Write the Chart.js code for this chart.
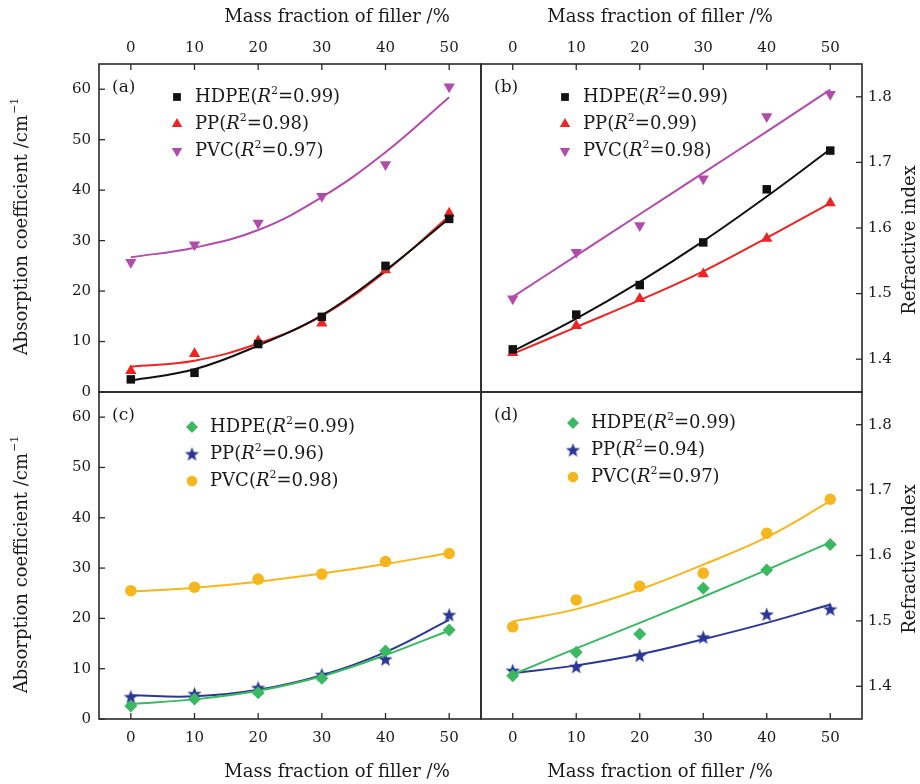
<!DOCTYPE html>
<html>
<head>
<meta charset="utf-8">
<script src="https://cdn.jsdelivr.net/npm/chart.js@4.4.1/dist/chart.umd.min.js"></script>
<style>
  body { margin: 0; background: #fff; }
  #wrap { position: relative; width: 920px; height: 784px; }
  #wrap canvas { position: absolute; left: 0; top: 0; }
</style>
</head>
<body>
<div id="wrap">
  <canvas id="panelA" width="920" height="784"></canvas>
  <canvas id="panelB" width="920" height="784"></canvas>
  <canvas id="panelC" width="920" height="784"></canvas>
  <canvas id="panelD" width="920" height="784"></canvas>
</div>
<script>
// mass fraction of filler (%) - same for all series
const massFraction = [0, 10, 20, 30, 40, 50];
const xTicks = [0, 10, 20, 30, 40, 50];
const absTicks = [0, 10, 20, 30, 40, 50, 60];
const riTicks = [1.4, 1.5, 1.6, 1.7, 1.8];
const materials = ['HDPE', 'PP', 'PVC'];

// (a) absorption coefficient /cm-1
const absHdpeA = [2.5, 3.8, 9.5, 14.9, 25.0, 34.3];
const absPpA = [4.2, 7.6, 10.1, 13.6, 24.2, 35.4];
const absPvcA = [25.7, 29.2, 33.5, 38.8, 45.1, 60.5];
const absHdpeFitA = [2.3, 4.5, 9.2, 15.2, 24.1, 34.4];
const absPpFitA = [5.0, 6.2, 9.6, 15.1, 23.9, 34.9];
const absPvcFitA = [26.7, 28.6, 32.1, 38.6, 47.5, 58.4];
const r2A = [0.99, 0.98, 0.97];

// (b) refractive index
const riHdpeB = [1.415, 1.468, 1.513, 1.578, 1.659, 1.718];
const riPpB = [1.410, 1.451, 1.492, 1.530, 1.584, 1.638];
const riPvcB = [1.492, 1.563, 1.604, 1.675, 1.770, 1.804];
const riHdpeFitB = [1.412, 1.462, 1.518, 1.580, 1.648, 1.720];
const riPpFitB = [1.408, 1.449, 1.490, 1.534, 1.585, 1.638];
const riPvcFitB = [1.495, 1.558, 1.621, 1.684, 1.747, 1.811];
const r2B = [0.99, 0.99, 0.98];

// (c) absorption coefficient /cm-1
const absHdpeC = [2.6, 4.0, 5.2, 8.1, 13.5, 17.7];
const absPpC = [4.4, 5.0, 6.2, 8.8, 11.9, 20.7];
const absPvcC = [25.5, 26.2, 27.8, 28.8, 31.3, 32.9];
const absHdpeFitC = [3.0, 3.9, 5.6, 8.5, 12.7, 17.6];
const absPpFitC = [4.7, 4.5, 5.8, 8.7, 13.3, 19.7];
const absPvcFitC = [25.3, 26.1, 27.3, 28.9, 30.8, 33.0];
const r2C = [0.99, 0.96, 0.98];

// (d) refractive index
const riHdpeD = [1.416, 1.452, 1.480, 1.550, 1.578, 1.617];
const riPpD = [1.424, 1.430, 1.447, 1.475, 1.510, 1.518];
const riPvcD = [1.491, 1.532, 1.553, 1.573, 1.634, 1.686];
const riHdpeFitD = [1.418, 1.458, 1.497, 1.537, 1.578, 1.620];
const riPpFitD = [1.420, 1.432, 1.449, 1.472, 1.497, 1.525];
const riPvcFitD = [1.499, 1.518, 1.548, 1.586, 1.628, 1.683];
const r2D = [0.99, 0.94, 0.97];

const SERIF = '"DejaVu Serif", "Liberation Serif", serif';
const INK = '#1a1a1a';
const colBlack = '#111111', colRed = '#ee2424', colPurple = '#b24cab';
const colGreen = '#3cb862', colBlue = '#2b3796', colYellow = '#f6b61e';

// filled five point star, used as an image point style
function starImage(color, size) {
    const c = document.createElement('canvas');
    c.width = c.height = size;
    const g = c.getContext('2d');
    const r = size / 2, ri = r * 0.42;
    g.fillStyle = color;
    g.beginPath();
    for (let i = 0; i < 10; i++) {
        const rr = i % 2 ? ri : r;
        const a = -Math.PI / 2 + i * Math.PI / 5;
        g.lineTo(r + rr * Math.cos(a), r + 0.6 + rr * Math.sin(a));
    }
    g.closePath();
    g.fill();
    return c;
}
const blueStar = starImage(colBlue, 15);

const markers = {
    square: { pointStyle: 'rect', radius: 6, rotation: 0 },
    up: { pointStyle: 'triangle', radius: 6.5, rotation: 0 },
    down: { pointStyle: 'triangle', radius: 6.5, rotation: 180 },
    diamond: { pointStyle: 'rectRot', radius: 6.5, rotation: 0 },
    star: { pointStyle: blueStar, radius: 7, rotation: 0 },
    circle: { pointStyle: 'circle', radius: 5.8, rotation: 0 }
};

function toXY(vals) {
    return massFraction.map((x, i) => ({ x: x, y: vals[i] }));
}

function pointSet(vals, color, marker) {
    const m = markers[marker];
    return {
        data: toXY(vals),
        showLine: false,
        pointStyle: m.pointStyle,
        pointRadius: m.radius,
        pointRotation: m.rotation,
        backgroundColor: color,
        borderColor: color,
        borderWidth: 0,
        order: 1
    };
}

function fitSet(vals, color) {
    return {
        data: toXY(vals),
        showLine: true,
        tension: 0.4,
        pointRadius: 0,
        borderColor: color,
        borderWidth: 2,
        fill: false,
        order: 2
    };
}

// draws text pieces like "HDPE(" + italic R + superscript 2 + "=0.99)"
function drawLegendText(ctx, x, y, name, r2) {
    ctx.textAlign = 'left';
    ctx.textBaseline = 'middle';
    ctx.font = '18px ' + SERIF;
    ctx.fillText(name + '(', x, y);
    x += ctx.measureText(name + '(').width;
    ctx.font = 'italic 18px ' + SERIF;
    ctx.fillText('R', x, y);
    x += ctx.measureText('R').width;
    ctx.font = '11px ' + SERIF;
    ctx.fillText('2', x, y - 6);
    x += ctx.measureText('2').width;
    ctx.font = '18px ' + SERIF;
    ctx.fillText('=' + r2.toFixed(2) + ')', x, y);
}

function drawYTitle(ctx, cx, cy, kind) {
    ctx.save();
    ctx.translate(cx, cy);
    ctx.rotate(-Math.PI / 2);
    ctx.textBaseline = 'middle';
    ctx.textAlign = 'left';
    ctx.fillStyle = INK;
    if (kind === 'abs') {
        const main = 'Absorption coefficient /cm';
        ctx.font = '18px ' + SERIF;
        const w1 = ctx.measureText(main).width;
        ctx.font = '11px ' + SERIF;
        const w2 = ctx.measureText('\u22121').width;
        const start = -(w1 + w2) / 2;
        ctx.font = '18px ' + SERIF;
        ctx.fillText(main, start, 0);
        ctx.font = '11px ' + SERIF;
        ctx.fillText('\u22121', start + w1 + 1, -7);
    } else {
        ctx.font = '18px ' + SERIF;
        ctx.textAlign = 'center';
        ctx.fillText('Refractive index', 0, 0);
    }
    ctx.restore();
}

const panelPlugin = {
    id: 'panel',
    afterDraw(chart, args, opts) {
        const ctx = chart.ctx;
        const area = chart.chartArea;
        const xs = chart.scales.x, ys = chart.scales.y;
        ctx.save();

        // frame
        ctx.strokeStyle = '#2a2a2a';
        ctx.lineWidth = 1.6;
        ctx.strokeRect(area.left, area.top, area.right - area.left, area.bottom - area.top);

        // x ticks, labels and title
        const top = opts.xSide === 'top';
        const xEdge = top ? area.top : area.bottom;
        ctx.fillStyle = INK;
        ctx.font = '15px ' + SERIF;
        ctx.textAlign = 'center';
        ctx.textBaseline = 'middle';
        ctx.lineWidth = 1.3;
        xTicks.forEach(v => {
            const px = xs.getPixelForValue(v);
            ctx.beginPath();
            ctx.moveTo(px, xEdge);
            ctx.lineTo(px, xEdge + (top ? 6 : -6));
            ctx.stroke();
            ctx.fillText(String(v), px, top ? area.top - 16 : area.bottom + 19);
        });
        ctx.font = '18px ' + SERIF;
        ctx.fillText('Mass fraction of filler /%', opts.titleX, top ? area.top - 47 : area.bottom + 53);

        // y ticks and labels
        const left = opts.ySide === 'left';
        const yEdge = left ? area.left : area.right;
        ctx.font = '15px ' + SERIF;
        ctx.textAlign = left ? 'right' : 'left';
        opts.yTicks.forEach(v => {
            const py = ys.getPixelForValue(v);
            ctx.beginPath();
            ctx.moveTo(yEdge, py);
            ctx.lineTo(yEdge + (left ? 6 : -6), py);
            ctx.stroke();
            const txt = opts.yKind === 'ri' ? v.toFixed(1) : String(v);
            ctx.fillText(txt, left ? area.left - 8 : area.right + 6, py);
        });
        drawYTitle(ctx, left ? 22 : 910, opts.yTitleY, opts.yKind);

        // panel letter
        ctx.font = '17px ' + SERIF;
        ctx.textAlign = 'left';
        ctx.fillText(opts.letter, area.left + 13, area.top + 24);

        // legend
        opts.legend.forEach((item, i) => {
            const y = area.top + opts.legendTop + i * 27;
            const m = markers[item.marker];
            ctx.fillStyle = item.color;
            ctx.strokeStyle = item.color;
            Chart.helpers.drawPoint(ctx, {
                pointStyle: m.pointStyle, radius: m.radius - 0.5,
                rotation: m.rotation, borderWidth: 0
            }, area.left + opts.legendX, y);
            ctx.fillStyle = INK;
            drawLegendText(ctx, area.left + opts.legendX + 18, y, item.name, item.r2);
        });
        ctx.restore();
    }
};

function makePanel(id, box, yRange, datasets, panelOpts) {
    return new Chart(document.getElementById(id), {
        type: 'scatter',
        data: { datasets: datasets },
        options: {
            responsive: false,
            animation: false,
            events: [],
            layout: { padding: { left: box[0], top: box[1], right: 920 - box[2], bottom: 784 - box[3] } },
            scales: {
                x: { type: 'linear', min: -5, max: 55, display: false },
                y: { type: 'linear', min: yRange[0], max: yRange[1], display: false }
            },
            plugins: {
                legend: { display: false },
                tooltip: { enabled: false },
                panel: panelOpts
            }
        },
        plugins: [panelPlugin]
    });
}

function legendItems(colors, marks, r2) {
    return materials.map((name, i) => ({ name: name, color: colors[i], marker: marks[i], r2: r2[i] }));
}

const colorsTop = [colBlack, colRed, colPurple];
const marksTop = ['square', 'up', 'down'];
const colorsBottom = [colGreen, colBlue, colYellow];
const marksBottom = ['diamond', 'star', 'circle'];

makePanel('panelA', [99, 64, 481, 392], [0, 65], [
    pointSet(absHdpeA, colBlack, 'square'),
    pointSet(absPpA, colRed, 'up'),
    pointSet(absPvcA, colPurple, 'down'),
    fitSet(absHdpeFitA, colBlack),
    fitSet(absPpFitA, colRed),
    fitSet(absPvcFitA, colPurple)
], {
    letter: '(a)', xSide: 'top', ySide: 'left', yKind: 'abs', yTicks: absTicks,
    titleX: 337, yTitleY: 227, legendX: 78, legendTop: 33,
    legend: legendItems(colorsTop, marksTop, r2A)
});

makePanel('panelB', [481, 64, 862, 392], [1.35, 1.85], [
    pointSet(riHdpeB, colBlack, 'square'),
    pointSet(riPpB, colRed, 'up'),
    pointSet(riPvcB, colPurple, 'down'),
    fitSet(riHdpeFitB, colBlack),
    fitSet(riPpFitB, colRed),
    fitSet(riPvcFitB, colPurple)
], {
    letter: '(b)', xSide: 'top', ySide: 'right', yKind: 'ri', yTicks: riTicks,
    titleX: 660, yTitleY: 240, legendX: 84, legendTop: 33,
    legend: legendItems(colorsTop, marksTop, r2B)
});

makePanel('panelC', [99, 392, 481, 719], [0, 65], [
    pointSet(absHdpeC, colGreen, 'diamond'),
    pointSet(absPpC, colBlue, 'star'),
    pointSet(absPvcC, colYellow, 'circle'),
    fitSet(absHdpeFitC, colGreen),
    fitSet(absPpFitC, colBlue),
    fitSet(absPvcFitC, colYellow)
], {
    letter: '(c)', xSide: 'bottom', ySide: 'left', yKind: 'abs', yTicks: absTicks,
    titleX: 337, yTitleY: 565, legendX: 93, legendTop: 35,
    legend: legendItems(colorsBottom, marksBottom, r2C)
});

makePanel('panelD', [481, 392, 862, 719], [1.35, 1.85], [
    pointSet(riHdpeD, colGreen, 'diamond'),
    pointSet(riPpD, colBlue, 'star'),
    pointSet(riPvcD, colYellow, 'circle'),
    fitSet(riHdpeFitD, colGreen),
    fitSet(riPpFitD, colBlue),
    fitSet(riPvcFitD, colYellow)
], {
    letter: '(d)', xSide: 'bottom', ySide: 'right', yKind: 'ri', yTicks: riTicks,
    titleX: 660, yTitleY: 559, legendX: 92, legendTop: 31,
    legend: legendItems(colorsBottom, marksBottom, r2D)
});
</script>
</body>
</html>
